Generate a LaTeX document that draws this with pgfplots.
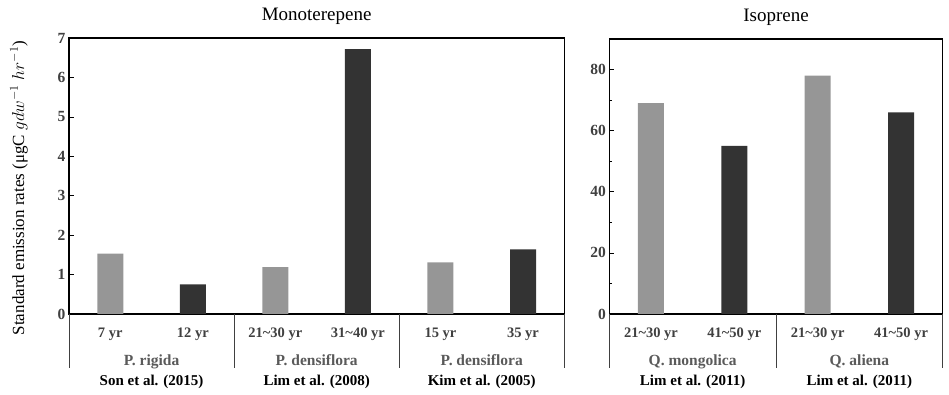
\documentclass[border=0pt]{standalone}
\usepackage{fontspec}
\setmainfont{Liberation Serif}
\usepackage{pgfplots}
\pgfplotsset{compat=1.18}
\definecolor{lightbar}{HTML}{969696}
\definecolor{darkbar}{HTML}{333333}
\definecolor{ticktext}{HTML}{404040}
\definecolor{spectext}{HTML}{5A5A5A}
\pgfplotsset{
  myaxis/.style={
    scale only axis,
    anchor=south west,
    ybar, bar width=26pt, bar shift=0pt,
    axis line style={line width=1.3pt},
    ymin=0,
    xtick={0,1,2,3,4,5},
    tick align=inside,
    ytick pos=left,
    major tick length=4.5pt,
    minor tick length=3pt,
    tick style={black, line width=0.6pt},
    xtick style={draw=none},
    /pgf/number format/assume math mode=true,
    yticklabel style={font=\fontsize{15.5}{15}\selectfont\bfseries, text=ticktext},
    xticklabel style={font=\fontsize{14.5}{15}\selectfont\bfseries, text=ticktext, anchor=base, yshift=-24pt},
    title style={at={(0.5,1)}, anchor=base, yshift=12pt, font=\fontsize{19}{19}\selectfont},
    clip=false,
  },
}
\tikzset{
  spec/.style={anchor=base, font=\fontsize{15.5}{15}\selectfont\bfseries, text=spectext},
  ref/.style={anchor=base, font=\fontsize{15}{15}\selectfont\bfseries, text=black},
  sepline/.style={black!75, line width=0.8pt},
}
\begin{document}
\begin{tikzpicture}
\useasboundingbox (0,0) rectangle (949pt,395pt);
\begin{axis}[myaxis,
  at={(69pt,81pt)}, width=495.3pt, height=276pt,
  xmin=-0.5, xmax=5.5, ymax=7,
  ytick={0,1,2,3,4,5,6,7},
  xticklabels={7 yr,12 yr,21\textasciitilde 30 yr,31\textasciitilde 40 yr,15 yr,35 yr},
  title={Monoterepene},
  ylabel={Standard emission rates (μgC $gdw^{-1}\;hr^{-1}$)},
  every axis y label/.style={at={([xshift=-50pt,yshift=-12pt]rel axis cs:0,0.5)}, rotate=90, anchor=center, font=\fontsize{17}{17}\selectfont},
]
\addplot[fill=lightbar, draw=none] coordinates {(0,1.53) (2,1.19) (4,1.31)};
\addplot[fill=darkbar, draw=none] coordinates {(1,0.75) (3,6.72) (5,1.64)};
\draw[sepline] (axis cs:-0.5,0) -- ([yshift=-54pt]axis cs:-0.5,0);
\draw[sepline] (axis cs:1.5,0) -- ([yshift=-54pt]axis cs:1.5,0);
\draw[sepline] (axis cs:3.5,0) -- ([yshift=-54pt]axis cs:3.5,0);
\draw[sepline] (axis cs:5.5,0) -- ([yshift=-54pt]axis cs:5.5,0);
\node[spec] at ([yshift=-52pt]axis cs:0.5,0) {P. rigida};
\node[spec] at ([yshift=-52pt]axis cs:2.5,0) {P. densiflora};
\node[spec] at ([yshift=-52pt]axis cs:4.5,0) {P. densiflora};
\node[ref] at ([yshift=-72pt]axis cs:0.5,0) {Son et al. (2015)};
\node[ref] at ([yshift=-72pt]axis cs:2.5,0) {Lim et al. (2008)};
\node[ref] at ([yshift=-72pt]axis cs:4.5,0) {Kim et al. (2005)};
\end{axis}
\begin{axis}[myaxis,
  at={(609.3pt,81pt)}, width=333.4pt, height=275pt,
  xmin=-0.5, xmax=3.5, ymax=90,
  ytick={0,20,40,60,80},
  minor ytick={10,30,50,70},
  xtick={0,1,2,3},
  xticklabels={21\textasciitilde 30 yr,41\textasciitilde 50 yr,21\textasciitilde 30 yr,41\textasciitilde 50 yr},
  title={Isoprene},
]
\addplot[fill=lightbar, draw=none] coordinates {(0,69) (2,78)};
\addplot[fill=darkbar, draw=none] coordinates {(1,55) (3,66)};
\draw[sepline] (axis cs:-0.5,0) -- ([yshift=-54pt]axis cs:-0.5,0);
\draw[sepline] (axis cs:1.5,0) -- ([yshift=-54pt]axis cs:1.5,0);
\draw[sepline] (axis cs:3.5,0) -- ([yshift=-54pt]axis cs:3.5,0);
\node[spec] at ([yshift=-52pt]axis cs:0.5,0) {Q. mongolica};
\node[spec] at ([yshift=-52pt]axis cs:2.5,0) {Q. aliena};
\node[ref] at ([yshift=-72pt]axis cs:0.5,0) {Lim et al. (2011)};
\node[ref] at ([yshift=-72pt]axis cs:2.5,0) {Lim et al. (2011)};
\end{axis}
\end{tikzpicture}
\end{document}
